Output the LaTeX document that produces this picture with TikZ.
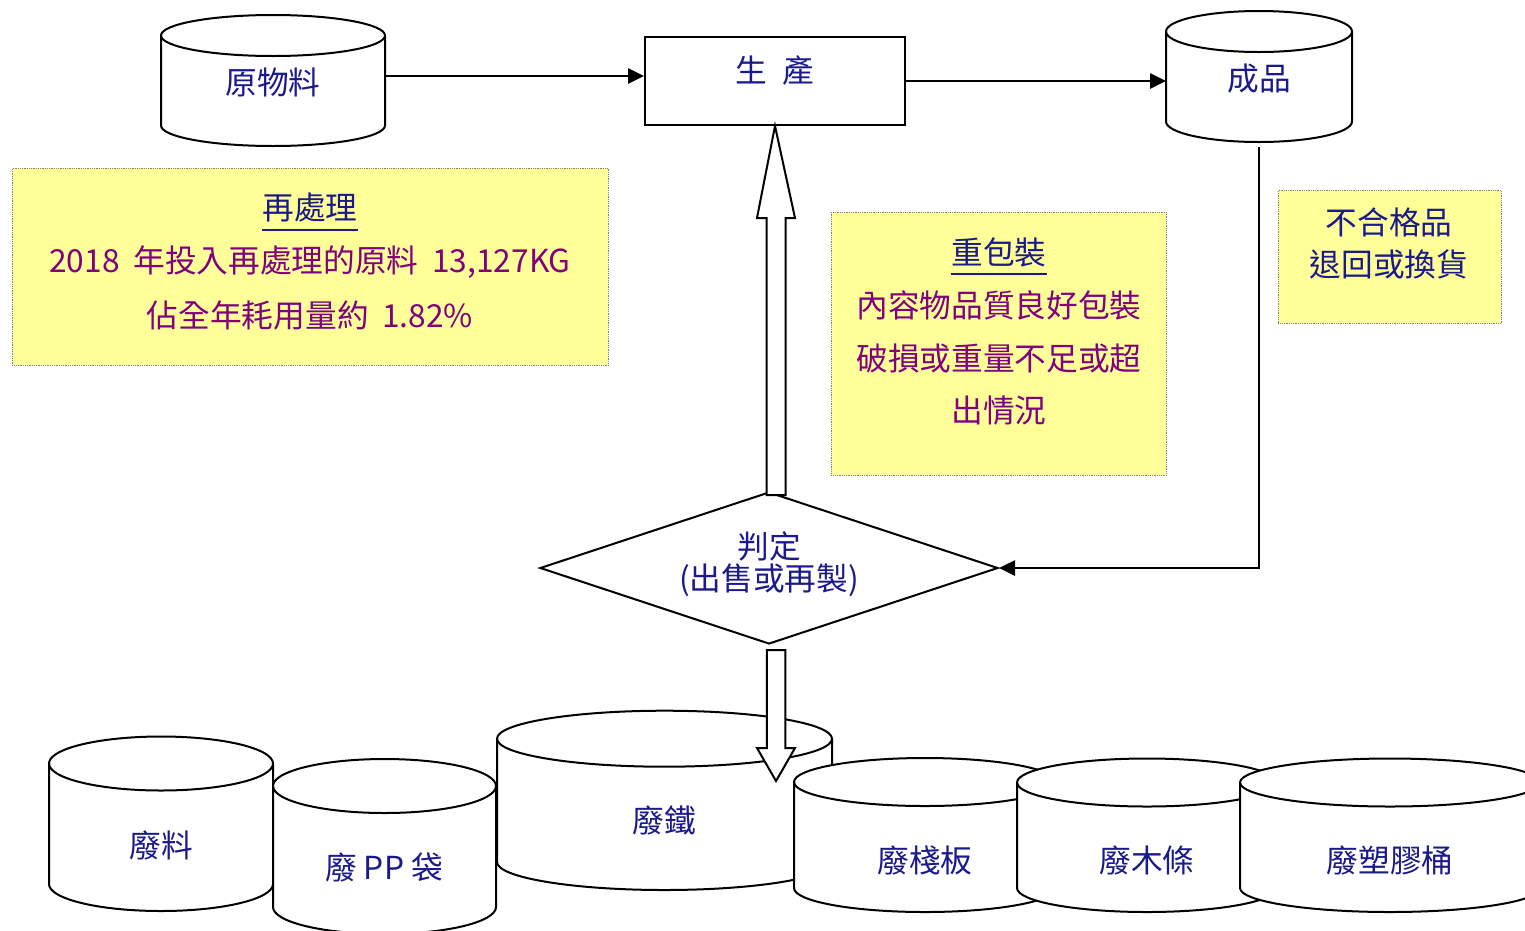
\documentclass[tikz,border=0pt]{standalone}
\usepackage{fontspec}
\setmainfont{Noto Sans CJK TC}
\usetikzlibrary{arrows.meta,shapes.geometric,calc}
\definecolor{navy}{RGB}{26,26,140}
\definecolor{purp}{RGB}{128,0,128}
\definecolor{notey}{RGB}{255,255,153}
\newcommand\drawcyl[5]{%
  \pgfmathsetmacro\cylrx{(#2-#1)/2}%
  \path[shp] (#1,-#3) -- (#1,-#5) arc[start angle=180,end angle=360,x radius=\cylrx,y radius=#4] -- (#2,-#3) arc[start angle=0,end angle=180,x radius=\cylrx,y radius=#4] -- cycle;
  \draw[shp,fill=none] (#1,-#3) arc[start angle=180,end angle=360,x radius=\cylrx,y radius=#4];
}
\newcommand\wsp{\hspace{0.43em}}
\begin{document}
\begin{tikzpicture}[x=1pt,y=1pt,
  shp/.style={draw=black,line width=2pt,fill=white},
  hollow/.style={draw=black,line width=2pt,fill=white,line join=miter},
  conn/.style={draw=black,line width=2.6pt,-{Triangle[length=16pt,width=15pt]}},
  note/.style={draw=gray,densely dotted,line width=0.8pt,fill=notey,inner sep=0pt,anchor=north west},
  lbl/.style={text=navy,font=\fontsize{31.7}{32}\selectfont,inner sep=0pt,align=center},
  plbl/.style={text=purp,font=\fontsize{31.7}{32}\selectfont,inner sep=0pt,align=center},
  uline/.style={draw=navy,line width=2pt}
]
\useasboundingbox (0,0) rectangle (1525,-930);

% top row
\drawcyl{161}{385}{35.5}{20.5}{125.5}
\node[lbl] (raw) at (273,-82) {原物料};
\node[draw=black,line width=2pt,minimum width=260pt,minimum height=88pt,inner sep=0pt] (prod) at (775,-81) {};
\node[lbl] (prodtxt) at (775,-70) {生\hspace{16pt}產};
\drawcyl{1166}{1352}{31.5}{20.5}{121.5}
\node[lbl] (fin) at (1259,-79) {成品};

\coordinate (rawE) at (385,-76);
\coordinate (finW) at (1166,-81);
\coordinate (finbot) at (1259,-147);
\draw[conn] (rawE) -- (rawE -| prod.west);
\draw[conn] (finW -| prod.east) -- (finW);

% notes
\node[note,minimum width=596pt,minimum height=197pt] (n1) at (12,-168) {};
\node[lbl] (n1t) at (310,-208) {再處理};
\draw[uline] ($(n1t.south west)+(0,-7)$) -- ($(n1t.south east)+(0,-7)$);
\node[plbl] (n1a) at (310,-262) {2018\wsp 年投入再處理的原料\wsp 13,127KG};
\node[plbl] (n1b) at (310,-315) {佔全年耗用量約\wsp 1.82\%};

\node[note,minimum width=335pt,minimum height=263pt] (n2) at (831,-212) {};
\node[lbl] (n2t) at (999,-252) {重包裝};
\draw[uline] ($(n2t.south west)+(0,-7)$) -- ($(n2t.south east)+(0,-7)$);
\node[plbl] (n2a) at (999,-305) {內容物品質良好包裝};
\node[plbl] (n2b) at (999,-358) {破損或重量不足或超};
\node[plbl] (n2c) at (999,-411) {出情況};

\node[note,minimum width=223pt,minimum height=133pt] (n3) at (1278,-190) {};
\node[lbl] (n3a) at (1389,-222) {不合格品};
\node[lbl] (n3b) at (1389,-264) {退回或換貨};

% decision
\node[diamond,draw=black,line width=2pt,fill=white,minimum width=458pt,minimum height=152pt,inner sep=0pt] (judge) at (769,-568) {};
\node[lbl] (judgetxt) at (769,-564) {判定\\(出售或再製)};
\draw[conn] (finbot) |- (judge.east);

% hollow up arrow
\draw[hollow] (prod.south) -- ($(prod.south)+(20,-92)$) -- ($(prod.south)+(10.5,-92)$)
  -- ($(prod.south |- judge.north)+(10.5,-4)$) -- ($(prod.south |- judge.north)+(-8.5,-4)$)
  -- ($(prod.south)+(-8.5,-92)$) -- ($(prod.south)+(-18,-92)$) -- cycle;

% bottom row
\drawcyl{49}{273}{763.5}{27}{884}
\node[lbl] (w1) at (161,-845) {廢料};
\drawcyl{273}{496}{786}{27}{907}
\node[lbl] (w2) at (384,-867) {廢 PP 袋};
\drawcyl{497}{832}{738.7}{28}{862}
\node[lbl] (w3) at (664,-820) {廢鐵};

\coordinate (dnstart) at ($(judge.south)+(7,-5)$);
\coordinate (scraptip) at (776,-781);
\draw[hollow] ($(dnstart)+(-9.2,0)$) -- ($(dnstart)+(9.3,0)$) -- ($(scraptip)+(9.3,33)$)
  -- ($(scraptip)+(19,33)$) -- (scraptip) -- ($(scraptip)+(-19,33)$) -- ($(scraptip)+(-9.2,33)$) -- cycle;

\drawcyl{794}{1056}{782}{24}{888}
\node[lbl] (w4) at (925,-860) {廢棧板};
\drawcyl{1017}{1277}{782.5}{24}{888}
\node[lbl] (w5) at (1147,-860) {廢木條};
\drawcyl{1240}{1540}{782.5}{24}{888}
\node[lbl] (w6) at (1390,-860) {廢塑膠桶};
\end{tikzpicture}
\end{document}
